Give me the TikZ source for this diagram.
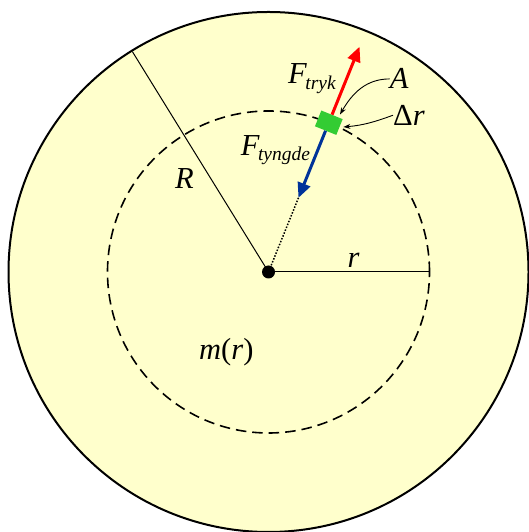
\documentclass[tikz,border=0pt]{standalone}
\usepackage{fontspec}
\setmainfont{Liberation Serif}
\usetikzlibrary{arrows.meta}
\definecolor{bgyellow}{RGB}{255,255,204}
\definecolor{fred}{RGB}{255,0,0}
\definecolor{fblue}{RGB}{0,51,153}
\definecolor{fgreen}{RGB}{51,204,51}
\newcommand{\subsz}{\fontsize{19.5}{21}\selectfont}
\begin{document}
\begin{tikzpicture}[x=1pt,y=1pt,
  lbl/.style={inner sep=0pt, anchor=base west, font=\fontsize{30.5}{32}\selectfont\itshape},
  outerline/.style={line width=2pt, fill=bgyellow},
  dashline/.style={line width=1.6pt, dash pattern=on 10.5pt off 6pt},
  radline/.style={line width=1pt},
  force/.style={line width=3pt, -{Triangle[length=15pt,width=13pt]}},
  dotline/.style={line width=1.5pt, dash pattern=on 1.5pt off 1.6pt},
  pointer/.style={line width=0.9pt, -{Stealth[length=7pt,width=5pt]}},
  dot/.style={circle, fill=black, minimum size=13pt, inner sep=0pt},
  elem/.style={fill=fgreen, minimum width=23pt, minimum height=17pt, inner sep=0pt}]
\useasboundingbox (0,0) rectangle (528,532);
\begin{scope}[shift={(268.5,260)}]
  \coordinate (C0) at (0,0);
  \draw[outerline] (C0) circle[radius=260];
  \draw[dashline] (C0) circle[radius=161];
  \coordinate (Rend) at (121.7:259);
  \coordinate (rend) at (0:161);
  \coordinate (tryktip) at (68:243);
  \coordinate (tyngdetip) at (68:80);
  \node[elem, rotate=-22] (box) at (68:161) {};
  \draw[radline] (C0) -- (Rend);
  \draw[radline] (C0) -- (rend);
  \draw[force, fred] (box.north) -- (tryktip);
  \draw[force, fblue] (box.south) -- (tyngdetip);
  \draw[dotline] (tyngdetip) -- (C0);
  \node[dot] (C) at (C0) {};
\end{scope}
\coordinate (Atip) at (340,417.5);
\coordinate (drtip) at (343.4,405);
\node[lbl] (Ftryk) at (288,448.7) {F\kern-1.5pt\raisebox{-6pt}{\subsz tryk}};
\node[lbl] (Ftyngde) at (240.7,376) {F\kern-1.5pt\raisebox{-4.7pt}{\subsz tyngde}};
\node[lbl] (A) at (389.6,443) {A};
\node[lbl] (dr) at (393,406.7) {{\upshape Δ}r};
\node[lbl] (R) at (175,343.7) {R};
\node[lbl] (r) at (347.5,264.3) {r};
\node[lbl] (m) at (199,172) {m{\upshape(}r{\upshape)}};
\draw[pointer] (A.west) to[out=180,in=60] (Atip);
\draw[pointer] (dr.west) to[out=200,in=5] (drtip);
\end{tikzpicture}
\end{document}
